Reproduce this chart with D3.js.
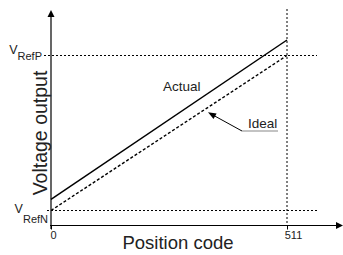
<!DOCTYPE html>
<html><head><meta charset="utf-8">
<script src="https://cdn.jsdelivr.net/npm/d3@7"></script>
<style>
html,body{margin:0;padding:0;background:#fff;}
svg{display:block;font-family:"Liberation Sans",Arial,sans-serif;}
</style></head>
<body>
<svg id="c" width="343" height="255"></svg>
<script>
// Data
const positionCodes = [0, 511];
const actualOutput = [0.072, 1.10];   // relative to VRefN (0) .. VRefP (1)
const idealOutput = [0, 1];
const xTickLabels = ["0", "511"];
const refLevels = [0, 1];
const refLabels = [{main: "V", sub: "RefN"}, {main: "V", sub: "RefP"}];

const svg = d3.select("#c");
const x = d3.scaleLinear().domain([0, 511]).range([51, 287]);
const y = d3.scaleLinear().domain([0, 1]).range([210.5, 55.5]);
const axisY = 225.5;

// dotted reference lines
svg.append("line").attr("x1", 44).attr("x2", 317).attr("y1", y(1)).attr("y2", y(1))
  .attr("stroke", "#000").attr("stroke-width", 1).attr("stroke-dasharray", "2,2");
svg.append("line").attr("x1", 47).attr("x2", 317).attr("y1", y(0)).attr("y2", y(0))
  .attr("stroke", "#000").attr("stroke-width", 1).attr("stroke-dasharray", "2,2");
svg.append("line").attr("x1", x(511)).attr("x2", x(511)).attr("y1", 9).attr("y2", axisY)
  .attr("stroke", "#000").attr("stroke-width", 1).attr("stroke-dasharray", "2,2");

// x axis
const xAxis = d3.axisBottom(x).tickValues(positionCodes).tickSize(4)
  .tickFormat((d, i) => xTickLabels[i]);
const gx = svg.append("g").attr("transform", `translate(0,${axisY})`).call(xAxis);
gx.select(".domain").remove();
gx.selectAll("text").attr("font-size", 11).attr("font-family", "Liberation Sans, Arial, sans-serif")
  .attr("fill", "#222").attr("dy", "0.55em").attr("dx", (d, i) => [2, 6][i]);
gx.selectAll(".tick line").attr("stroke", "#000");
svg.append("line").attr("x1", 50).attr("x2", 338).attr("y1", axisY).attr("y2", axisY)
  .attr("stroke", "#000").attr("stroke-width", 1.2);
svg.append("path").attr("d", `M343,${axisY} L336,${axisY-3.5} L336,${axisY+3.5} Z`).attr("fill", "#000");

// y axis
svg.append("line").attr("x1", x(0)).attr("x2", x(0)).attr("y1", 229).attr("y2", 15)
  .attr("stroke", "#000").attr("stroke-width", 1.2);
svg.append("path").attr("d", `M${x(0)},10 L${x(0)-3.5},17 L${x(0)+3.5},17 Z`).attr("fill", "#000");

// lines
const line = d3.line().x(d => x(d[0])).y(d => y(d[1]));
svg.append("path").datum(positionCodes.map((p, i) => [p, idealOutput[i]]))
  .attr("d", line).attr("fill", "none").attr("stroke", "#000")
  .attr("stroke-width", 1.4).attr("stroke-dasharray", "3,2");
svg.append("path").datum(positionCodes.map((p, i) => [p, actualOutput[i]]))
  .attr("d", line).attr("fill", "none").attr("stroke", "#000").attr("stroke-width", 1.5);

// ref labels
const refPos = [{xe: 48, dyMain: 2, dySub: 12.5}, {xe: 42, dyMain: -2, dySub: 4}];
refLevels.forEach((lv, i) => {
  const t = svg.append("text").attr("x", refPos[i].xe).attr("y", y(lv) + refPos[i].dySub)
    .attr("text-anchor", "end").attr("font-size", 11).attr("fill", "#222")
    .text(refLabels[i].sub);
  const w = t.node().getComputedTextLength();
  svg.append("text").attr("x", refPos[i].xe - w).attr("y", y(lv) + refPos[i].dyMain)
    .attr("text-anchor", "end").attr("font-size", 12.5).attr("fill", "#222")
    .text(refLabels[i].main);
});

// axis titles
svg.append("text").attr("x", 178).attr("y", 248.5).attr("text-anchor", "middle")
  .attr("font-size", 18.5).attr("fill", "#222").text("Position code");
svg.append("text").attr("transform", "translate(47,133) rotate(-90)").attr("text-anchor", "middle")
  .attr("font-size", 19.5).attr("fill", "#222").text("Voltage output");

// annotations
svg.append("text").attr("x", 163).attr("y", 91).attr("font-size", 13.5).attr("fill", "#222").text("Actual");
svg.append("text").attr("x", 248).attr("y", 127.5).attr("font-size", 13.5).attr("fill", "#222").text("Ideal");
const tipX = x(340), tipY = y(340 / 511) + 5;
svg.append("line").attr("x1", 242).attr("x2", 278).attr("y1", 131).attr("y2", 131)
  .attr("stroke", "#888").attr("stroke-width", 1.2);
svg.append("line").attr("x1", 242).attr("y1", 131).attr("x2", tipX + 5).attr("y2", tipY + 2.7)
  .attr("stroke", "#000").attr("stroke-width", 1);
const ang = Math.atan2(131 - tipY, 242 - tipX);
const L = 8, W = 3.2;
const bx = tipX + L * Math.cos(ang), by = tipY + L * Math.sin(ang);
svg.append("path").attr("d",
  `M${tipX},${tipY} L${bx - W * Math.sin(ang)},${by + W * Math.cos(ang)} L${bx + W * Math.sin(ang)},${by - W * Math.cos(ang)} Z`)
  .attr("fill", "#000");
</script>
</body></html>
